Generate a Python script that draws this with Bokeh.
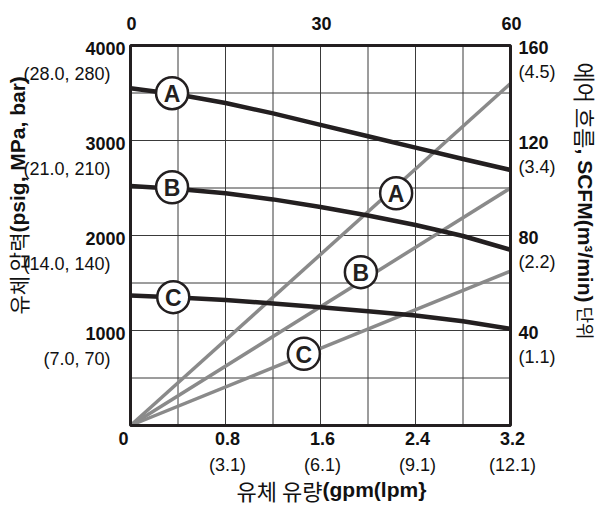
import math
from bokeh.plotting import figure
from bokeh.models import Range1d, Label
from bokeh.core.properties import value
from bokeh.embed import file_html
from bokeh.resources import INLINE

# ---------------- data ----------------
flow_gpm = [0.0, 0.4, 0.8, 1.2, 1.6, 2.0, 2.4, 2.8, 3.2]
press_A = [3550, 3485, 3395, 3285, 3165, 3045, 2925, 2805, 2690]
press_B = [2520, 2490, 2445, 2380, 2300, 2210, 2110, 1995, 1850]
press_C = [1368, 1348, 1320, 1285, 1245, 1203, 1158, 1098, 1018]

air_flow_gpm = [0.0, 3.2]
air_A = [0, 144]
air_B = [0, 100]
air_C = [0, 65]

x_ticks = [0, 0.8, 1.6, 2.4, 3.2]
x_tick_labels = ["0", "0.8", "1.6", "2.4", "3.2"]
x_sub = ["(3.1)", "(6.1)", "(9.1)", "(12.1)"]
y_ticks = [1000, 2000, 3000, 4000]
y_tick_labels = ["1000", "2000", "3000", "4000"]
y_sub = ["(7.0, 70)", "(14.0, 140)", "(21.0, 210)", "(28.0, 280)"]
air_ticks = [40, 80, 120, 160]
air_tick_labels = ["40", "80", "120", "160"]
air_sub = ["(1.1)", "(2.2)", "(3.4)", "(4.5)"]
top_ticks = [0, 30, 60]
top_tick_labels = ["0", "30", "60"]
grid_x = [0.4 * i for i in range(9)]
grid_y = [500 * i for i in range(9)]

curve_letters = ["A", "B", "C"]
curve_label_x = [0.35, 0.35, 0.36]
curve_label_y = [3498, 2508, 1351]
air_label_x = [2.237, 1.94, 1.46]
air_label_y = [2445, 1614, 755]

X_MIN, X_MAX = 0.0, 3.2
Y_MIN, Y_MAX = 0, 4000
AIR_MAX = 160
TOP_MAX = 60

# ---------------- layout (pixels) ----------------
W, H = 600, 506
FL, FR, FT, FB = 130, 510, 45, 425          # plot-area box in canvas pixels
xs = (X_MAX - X_MIN) / (FR - FL)             # data units per pixel
ys = (Y_MAX - Y_MIN) / (FB - FT)
x_rng = Range1d(X_MIN - FL * xs, X_MAX + (W - FR) * xs)
y_rng = Range1d(Y_MIN - (H - FB) * ys, Y_MAX + FT * ys)
air_k = AIR_MAX / Y_MAX
top_k = TOP_MAX / X_MAX

LAT = "Liberation Sans"
KR = "Noto Sans CJK KR"
DARK = "#231f20"
GRAY = "#8a8a8a"
GRID = "#3a3a3a"
TXT = "#111111"

p = figure(width=W, height=H, x_range=x_rng, y_range=y_rng,
           output_backend="svg", toolbar_location=None,
           x_axis_location=None, y_axis_location=None,
           min_border=0, min_border_left=0, min_border_right=0,
           min_border_top=0, min_border_bottom=0)
p.extra_y_ranges = {"air": Range1d(y_rng.start * air_k, y_rng.end * air_k)}
p.extra_x_ranges = {"top": Range1d(x_rng.start * top_k, x_rng.end * top_k)}
p.grid.visible = False
p.outline_line_color = None
p.background_fill_color = "white"
p.border_fill_color = "white"

# grid
p.segment(x0=grid_x, y0=[Y_MIN] * len(grid_x), x1=grid_x, y1=[Y_MAX] * len(grid_x),
          line_color=GRID, line_width=1)
p.segment(x0=[X_MIN] * len(grid_y), y0=grid_y, x1=[X_MAX] * len(grid_y), y1=grid_y,
          line_color=GRID, line_width=1)

# air flow lines (gray)
for yv in (air_A, air_B, air_C):
    p.line(air_flow_gpm, yv, y_range_name="air", line_color=GRAY, line_width=3.5)

# pressure curves (black)
for yv in (press_A, press_B, press_C):
    p.line(flow_gpm, yv, line_color=DARK, line_width=4.5, line_join="round")

# frame
p.quad(left=[X_MIN], right=[X_MAX], bottom=[Y_MIN], top=[Y_MAX],
       fill_color=None, line_color=DARK, line_width=3)

# circled letters
lx = curve_label_x + air_label_x
ly = curve_label_y + air_label_y
lt = curve_letters + curve_letters
p.scatter(lx, ly, marker="circle", size=32, fill_color="white", line_color=DARK, line_width=2.5)
p.text(lx, ly, text=lt, text_font=value(LAT), text_font_style="bold", text_font_size="23px",
       text_align="center", text_baseline="middle", text_color=DARK, y_offset=1)

def tick_text(x, y, text, bold, align, xo=0, yo=0, **kw):
    p.text(x=x, y=y, text=text, text_font=value(LAT),
           text_font_style="bold" if bold else "normal", text_font_size="18px",
           text_align=align, text_baseline="middle", text_color=TXT,
           x_offset=xo, y_offset=yo, **kw)

# bottom tick labels
tick_text(x_ticks[:1], [Y_MIN], x_tick_labels[:1], True, "center", xo=-7, yo=13)
tick_text(x_ticks[1:], [Y_MIN] * 4, x_tick_labels[1:], True, "center", xo=2, yo=13)
tick_text(x_ticks[1:], [Y_MIN] * 4, x_sub, False, "center", xo=2, yo=39)
# left tick labels
tick_text([X_MIN] * 4, y_ticks, y_tick_labels, True, "right", xo=-5, yo=3)
tick_text([X_MIN] * 4, y_ticks, y_sub, False, "right", xo=-20, yo=28)
# right tick labels
tick_text([X_MAX] * 4, air_ticks, air_tick_labels, True, "left", xo=8, yo=2, y_range_name="air")
tick_text([X_MAX] * 4, air_ticks, air_sub, False, "left", xo=8, yo=26, y_range_name="air")
# top tick labels
tick_text(top_ticks, [Y_MAX] * 3, top_tick_labels, True, "center", xo=1, yo=-22, x_range_name="top")

# axis titles (mixed weight pieces), screen units from bottom-left of canvas
def lab(x, y, text, align, angle, font, bold, size):
    p.add_layout(Label(x=x, y=H - y, x_units="screen", y_units="screen", text=text,
                       text_align=align, text_baseline="middle", angle=angle, text_font=font,
                       text_font_style="bold" if bold else "normal", text_font_size=size,
                       text_color=TXT))

# bottom title
lab(322, 489, "유체 유량", "right", 0, KR, False, "22px")
lab(322, 489, "(gpm(lpm}", "left", 0, LAT, True, "21px")
# left title (reads upward)
lab(17, 232, "유체 압력", "right", math.pi / 2, KR, False, "21px")
lab(17, 232, "(psig, MPa, bar)", "left", math.pi / 2, LAT, True, "21px")
# right title (reads downward)
lab(585, 148, "에어 흐름", "right", -math.pi / 2, KR, False, "22px")
lab(585, 148, ", SCFM(m³/min)", "left", -math.pi / 2, LAT, True, "21px")
lab(585, 306, "단위", "left", -math.pi / 2, KR, False, "18px")

open("out.html", "w").write(file_html(p, INLINE))
